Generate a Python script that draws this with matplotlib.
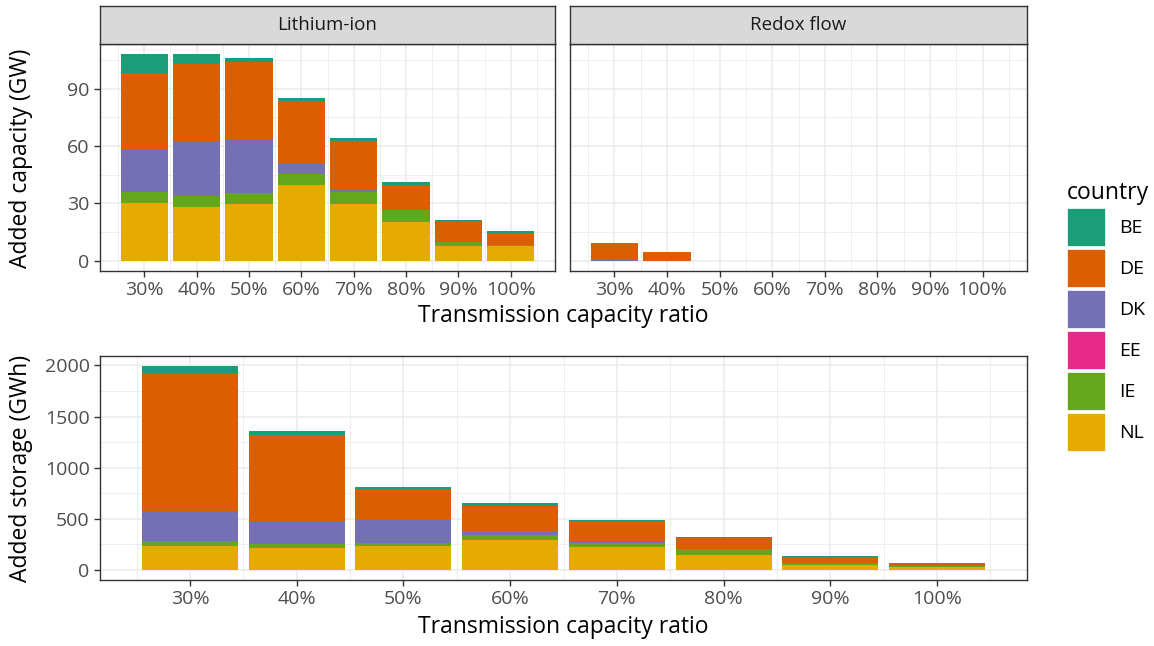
import matplotlib
matplotlib.use("Agg")
import matplotlib.pyplot as plt
from matplotlib.patches import Patch
from matplotlib.ticker import FuncFormatter, MultipleLocator

plt.rcParams['font.family'] = ['Open Sans', 'DejaVu Sans']

ratios = [0.3, 0.4, 0.5, 0.6, 0.7, 0.8, 0.9, 1.0]
countries = ['BE', 'DE', 'DK', 'EE', 'IE', 'NL']
colors = {'BE': '#1B9E77', 'DE': '#D95F02', 'DK': '#7570B3',
          'EE': '#E7298A', 'IE': '#66A61E', 'NL': '#E6AB02'}

# added capacity (GW), lithium-ion
li_cap = {
    'NL': [30.4, 28.1, 29.6, 39.5, 29.6, 20.3, 7.7, 7.5],
    'IE': [5.6, 5.9, 5.7, 5.8, 6.4, 6.2, 2.3, 0.9],
    'EE': [0, 0, 0, 0, 0, 0, 0, 0],
    'DK': [22.1, 28.6, 28.4, 5.1, 1.7, 0, 0, 0],
    'DE': [39.8, 40.4, 40.0, 33.3, 25.1, 13.3, 10.9, 6.3],
    'BE': [10.0, 4.9, 2.1, 1.4, 1.2, 1.3, 0.2, 0.6],
}
# added capacity (GW), redox flow
rf_cap = {
    'NL': [0, 0, 0, 0, 0, 0, 0, 0],
    'IE': [0, 0, 0, 0, 0, 0, 0, 0],
    'EE': [0, 0, 0, 0, 0, 0, 0, 0],
    'DK': [0.6, 0, 0, 0, 0, 0, 0, 0],
    'DE': [8.9, 4.4, 0, 0, 0, 0, 0, 0],
    'BE': [0, 0, 0, 0, 0, 0, 0, 0],
}
# added storage (GWh)
storage = {
    'NL': [230, 214, 230, 295, 227, 146, 50, 25],
    'IE': [49, 42, 36, 48, 32, 55, 20, 10],
    'EE': [0, 0, 0, 0, 0, 0, 0, 0],
    'DK': [298, 224, 220, 39, 20, 0, 0, 0],
    'DE': [1348, 836, 301, 247, 201, 107, 60, 27],
    'BE': [68, 42, 20, 22, 9, 10, 5, 4],
}
stack_order = ['NL', 'IE', 'EE', 'DK', 'DE', 'BE']

W, H = 1154, 646
fig = plt.figure(figsize=(W / 100, H / 100), dpi=100)


def box(l, t, r, b):
    return [l / W, 1 - b / H, (r - l) / W, (b - t) / H]


def style(ax, ylim, major, minor, show_y=True):
    ax.set_xlim(0.2155, 1.0845)
    ax.set_ylim(*ylim)
    ax.set_xticks(ratios)
    ax.xaxis.set_major_formatter(FuncFormatter(lambda v, p: f"{round(v * 100)}%"))
    ax.xaxis.set_minor_locator(MultipleLocator(0.1, offset=0.05))
    ax.yaxis.set_major_locator(MultipleLocator(major))
    ax.yaxis.set_minor_locator(MultipleLocator(minor))
    ax.grid(which='major', color='#EBEBEB', lw=1.1)
    ax.grid(which='minor', color='#EBEBEB', lw=0.55)
    ax.set_axisbelow(True)
    for s in ax.spines.values():
        s.set_color('#333333')
        s.set_linewidth(1.0)
    ax.tick_params(which='major', length=4.5, width=1, color='#333333',
                   labelcolor='#4D4D4D', labelsize=14, pad=3)
    ax.tick_params(which='minor', length=0)
    if not show_y:
        ax.tick_params(axis='y', which='both', length=0, labelleft=False)


def stacked(ax, data):
    bottom = [0] * len(ratios)
    for c in stack_order:
        ax.bar(ratios, data[c], width=0.09, bottom=bottom, color=colors[c], linewidth=0)
        bottom = [b + v for b, v in zip(bottom, data[c])]


ax1 = fig.add_axes(box(100, 44, 555, 271))
ax2 = fig.add_axes(box(570, 44, 1027, 271))
ax3 = fig.add_axes(box(100, 356, 1027, 580))

stacked(ax1, li_cap)
stacked(ax2, rf_cap)
stacked(ax3, storage)

style(ax1, (-5.4, 113.3), 30, 15)
style(ax2, (-5.4, 113.3), 30, 15, show_y=False)
style(ax3, (-100, 2093), 500, 250)

for l, r, title in [(100, 555, 'Lithium-ion'), (570, 1027, 'Redox flow')]:
    sa = fig.add_axes(box(l, 6, r, 44))
    sa.set_facecolor('#D9D9D9')
    sa.set_xticks([])
    sa.set_yticks([])
    for s in sa.spines.values():
        s.set_color('#333333')
        s.set_linewidth(1.0)
    sa.text(0.5, 0.5, title, ha='center', va='center', fontsize=13.5, color='#1A1A1A',
            transform=sa.transAxes)

fig.text(21 / W, 1 - 158 / H, 'Added capacity (GW)', rotation=90, ha='center', va='center', fontsize=16.5)
fig.text(21 / W, 1 - 468 / H, 'Added storage (GWh)', rotation=90, ha='center', va='center', fontsize=16.5)
fig.text(563 / W, 1 - 316 / H, 'Transmission capacity ratio', ha='center', va='center', fontsize=16.5)
fig.text(563 / W, 1 - 627 / H, 'Transmission capacity ratio', ha='center', va='center', fontsize=16.5)

handles = [Patch(facecolor=colors[c], edgecolor='white', linewidth=0.5) for c in countries]
fig.legend(handles, countries, loc='upper left', bbox_to_anchor=(1059 / W, 1 - 173 / H),
           title='country', title_fontsize=16.5, fontsize=14, frameon=False,
           handlelength=1.96, handleheight=2.64, labelspacing=0.15, handletextpad=0.72,
           alignment='left', borderaxespad=0)

fig.savefig('out.png', dpi=100)
